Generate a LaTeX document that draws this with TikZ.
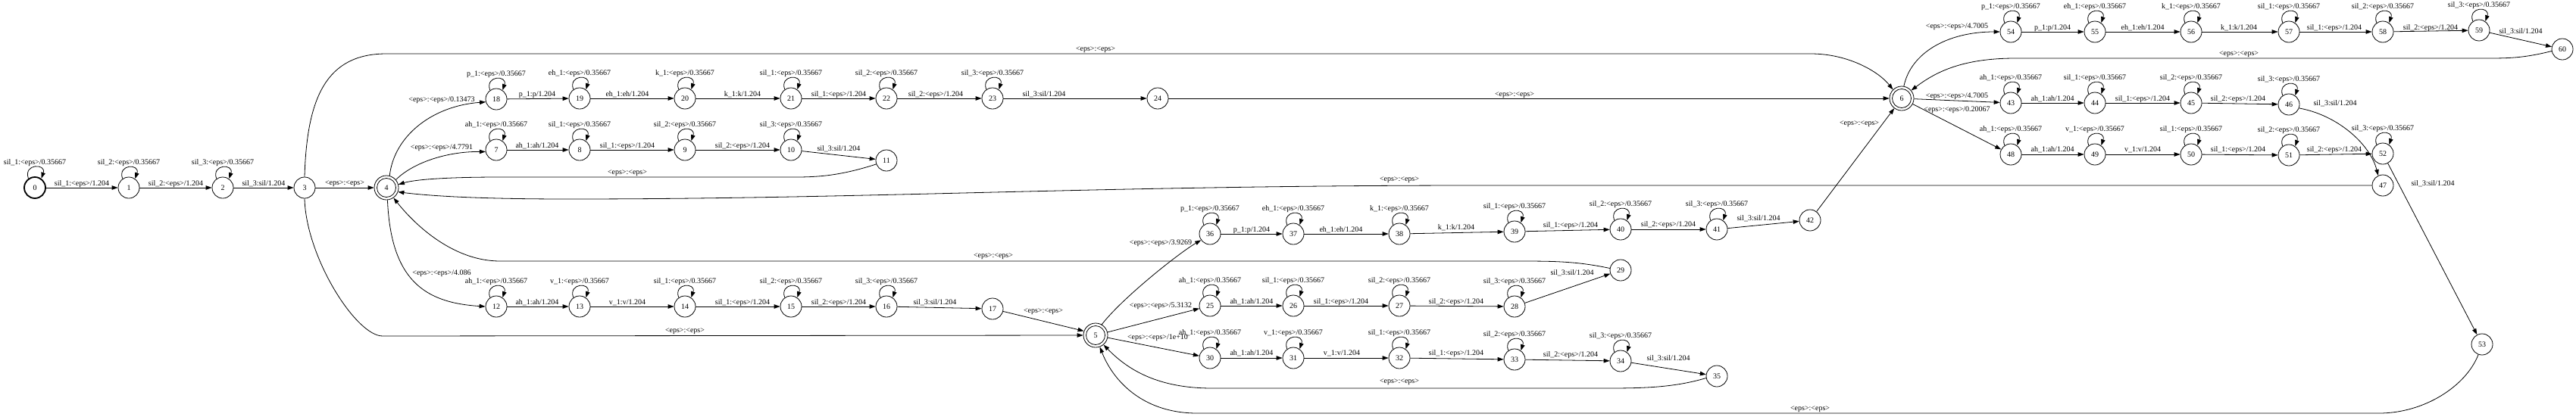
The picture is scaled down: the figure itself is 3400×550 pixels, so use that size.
\documentclass[tikz,border=0pt]{standalone}
\usepackage{fontspec}
\setmainfont{Liberation Serif}
\usetikzlibrary{arrows.meta}
\newcommand\lblfont{\fontsize{10pt}{12pt}\selectfont}
\newcommand\myloop[2]{\draw[arr] (#1.125) .. controls ([shift={(-7,-20)}]#1.125) and ([shift={(7,-20)}]#1.55) .. (#1.55);
  \node[lab] (loop#1) at ([yshift=33pt]#1.center) {#2};}
\newcommand\mychain[4]{\draw[arr] (#1) -- (#2);
  \node[lab] (lab#1#2) at (#3) {#4};}
\tikzset{
  st/.style={circle, draw, line width=0.8pt, minimum size=28pt, inner sep=0pt, font=\lblfont},
  fin/.style={st, minimum size=32pt, path picture={\draw[line width=0.8pt] (path picture bounding box.center) circle[radius=12.5pt];}},
  ini/.style={st, line width=1.8pt},
  lab/.style={font=\lblfont, inner sep=1pt, text=black},
  arr/.style={draw, line width=0.8pt, -{Triangle[length=8pt,width=5.5pt]}},
}
\begin{document}
\begin{tikzpicture}[x=1pt, y=-1pt]
\path[use as bounding box, fill=white] (0,0) rectangle (3400,550);
% states
\node[ini] (q0) at (46,248) {0};
\node[fin] (q4) at (510,248) {4};
\node[fin] (q5) at (1446,443) {5};
\node[fin] (q6) at (2510,130) {6};
\foreach \n/\x/\y in {1/170/248, 2/294/248, 3/402/248,
  7/655/198, 8/765/198, 9/904/198, 10/1044/198, 11/1170/212,
  12/655/405, 13/765/405, 14/904/405, 15/1044/405, 16/1170/405, 17/1310/408,
  18/655/131, 19/765/130, 20/904/130, 21/1044/130, 22/1170/130, 23/1310/130, 24/1528/130,
  25/1597/404, 26/1707/404, 27/1847/404, 28/1999/405, 29/2139/357,
  30/1597/473, 31/1707/473, 32/1847/473, 33/1999/475, 34/2139/477, 35/2266/497,
  36/1597/309, 37/1707/309, 38/1847/309, 39/1999/306, 40/2139/303, 41/2266/303, 42/2389/291,
  43/2654/136, 44/2765/136, 45/2892/136, 46/3021/138, 47/3145/245,
  48/2654/204, 49/2765/204, 50/2892/204, 51/3021/205, 52/3145/203, 53/3276/455,
  54/2654/42, 55/2765/42, 56/2892/42, 57/3021/42, 58/3145/42, 59/3272/40, 60/3382/65}
  {\node[st] (q\n) at (\x,\y) {\n};}
% self loops
\foreach \n/\p in {0/sil\_1, 1/sil\_2, 2/sil\_3,
  18/p\_1, 19/eh\_1, 20/k\_1, 21/sil\_1, 22/sil\_2, 23/sil\_3,
  7/ah\_1, 8/sil\_1, 9/sil\_2, 10/sil\_3,
  12/ah\_1, 13/v\_1, 14/sil\_1, 15/sil\_2, 16/sil\_3,
  36/p\_1, 37/eh\_1, 38/k\_1, 39/sil\_1, 40/sil\_2, 41/sil\_3,
  25/ah\_1, 26/sil\_1, 27/sil\_2, 28/sil\_3,
  30/ah\_1, 31/v\_1, 32/sil\_1, 33/sil\_2, 34/sil\_3,
  54/p\_1, 55/eh\_1, 56/k\_1, 57/sil\_1, 58/sil\_2, 59/sil\_3,
  43/ah\_1, 44/sil\_1, 45/sil\_2, 46/sil\_3,
  48/ah\_1, 49/v\_1, 50/sil\_1, 51/sil\_2, 52/sil\_3}
  {\myloop{q\n}{\p:<eps>/0.35667}}
% chains
\mychain{q0}{q1}{108,243}{sil\_1:<eps>/1.204}
\mychain{q1}{q2}{232,243}{sil\_2:<eps>/1.204}
\mychain{q2}{q3}{348,243}{sil\_3:sil/1.204}
\mychain{q3}{q4}{455,243}{<eps>:<eps>}
\mychain{q18}{q19}{709,125}{p\_1:p/1.204}
\mychain{q19}{q20}{828,125}{eh\_1:eh/1.204}
\mychain{q20}{q21}{980,125}{k\_1:k/1.204}
\mychain{q21}{q22}{1107,125}{sil\_1:<eps>/1.204}
\mychain{q22}{q23}{1235,125}{sil\_2:<eps>/1.204}
\mychain{q23}{q24}{1378,125}{sil\_3:sil/1.204}
\mychain{q7}{q8}{709,193}{ah\_1:ah/1.204}
\mychain{q8}{q9}{828,193}{sil\_1:<eps>/1.204}
\mychain{q9}{q10}{980,193}{sil\_2:<eps>/1.204}
\mychain{q10}{q11}{1107,197}{sil\_3:sil/1.204}
\mychain{q12}{q13}{709,400}{ah\_1:ah/1.204}
\mychain{q13}{q14}{828,400}{v\_1:v/1.204}
\mychain{q14}{q15}{980,400}{sil\_1:<eps>/1.204}
\mychain{q15}{q16}{1107,400}{sil\_2:<eps>/1.204}
\mychain{q16}{q17}{1234,400}{sil\_3:sil/1.204}
\mychain{q36}{q37}{1652,304}{p\_1:p/1.204}
\mychain{q37}{q38}{1770,304}{eh\_1:eh/1.204}
\mychain{q38}{q39}{1922,301}{k\_1:k/1.204}
\mychain{q39}{q40}{2073,298}{sil\_1:<eps>/1.204}
\mychain{q40}{q41}{2202,297}{sil\_2:<eps>/1.204}
\mychain{q41}{q42}{2321,289}{sil\_3:sil/1.204}
\mychain{q25}{q26}{1652,399}{ah\_1:ah/1.204}
\mychain{q26}{q27}{1770,399}{sil\_1:<eps>/1.204}
\mychain{q27}{q28}{1922,399}{sil\_2:<eps>/1.204}
\mychain{q30}{q31}{1652,467}{ah\_1:ah/1.204}
\mychain{q31}{q32}{1771,467}{v\_1:v/1.204}
\mychain{q32}{q33}{1922,467}{sil\_1:<eps>/1.204}
\mychain{q33}{q34}{2073,469}{sil\_2:<eps>/1.204}
\mychain{q54}{q55}{2709,37}{p\_1:p/1.204}
\mychain{q55}{q56}{2828,37}{eh\_1:eh/1.204}
\mychain{q56}{q57}{2955,37}{k\_1:k/1.204}
\mychain{q57}{q58}{3081,37}{sil\_1:<eps>/1.204}
\mychain{q58}{q59}{3208,37}{sil\_2:<eps>/1.204}
\mychain{q59}{q60}{3327,42}{sil\_3:sil/1.204}
\mychain{q43}{q44}{2709,131}{ah\_1:ah/1.204}
\mychain{q44}{q45}{2828,131}{sil\_1:<eps>/1.204}
\mychain{q45}{q46}{2954,131}{sil\_2:<eps>/1.204}
\mychain{q48}{q49}{2709,198}{ah\_1:ah/1.204}
\mychain{q49}{q50}{2828,198}{v\_1:v/1.204}
\mychain{q50}{q51}{2954,198}{sil\_1:<eps>/1.204}
\mychain{q51}{q52}{3081,198}{sil\_2:<eps>/1.204}
% straight edges with free labels
\mychain{q28}{q29}{2075,361}{sil\_3:sil/1.204}
\mychain{q34}{q35}{2202,474}{sil\_3:sil/1.204}
\mychain{q52}{q53}{3211,243}{sil\_3:sil/1.204}
\draw[arr] (q17) -- (q5.160);
\node[lab] (l17) at (1377,412) {<eps>:<eps>};
\mychain{q5}{q25}{1532,404}{<eps>:<eps>/5.3132}
\mychain{q5}{q30}{1528,446}{<eps>:<eps>/1e+10}
\mychain{q24}{q6}{1999,126}{<eps>:<eps>}
\mychain{q42}{q6}{2454,164}{<eps>:<eps>}
\mychain{q6}{q43}{2583,127}{<eps>:<eps>/4.7005}
\mychain{q6}{q48}{2583,145}{<eps>:<eps>/0.20067}
% curved edges
\draw[arr] (q3.north) .. controls (405,130) and (430,71) .. (510,71) -- (2390,71) .. controls (2440,71) and (2480,95) .. (q6.135);
\node[lab] (l36) at (1446,66) {<eps>:<eps>};
\draw[arr] (q3.south) .. controls (404,340) and (470,444) .. (505,444) -- (q5.west);
\node[lab] (l35) at (904,438) {<eps>:<eps>};
\draw[arr] (q4.75) .. controls (520,180) and (570,140) .. (q18.195);
\node[lab] (l418) at (583,132) {<eps>:<eps>/0.13473};
\draw[arr] (q4.40) .. controls (545,215) and (590,200) .. (q7.190);
\node[lab] (l47) at (583,195) {<eps>:<eps>/4.7791};
\draw[arr] (q4.275) .. controls (516,370) and (560,400) .. (q12.west);
\node[lab] (l412) at (583,361) {<eps>:<eps>/4.086};
\draw[arr] (q11.200) .. controls (1110,232) and (1080,234) .. (1050,234) -- (660,234) .. controls (580,234) and (545,238) .. (q4.15);
\node[lab] (l114) at (828,229) {<eps>:<eps>};
\draw[arr] (q47.west) -- (1950,245) .. controls (1450,245) and (1150,263) .. (750,263) .. controls (620,263) and (560,258) .. (q4.-20);
\node[lab] (l474) at (1847,238) {<eps>:<eps>};
\draw[arr] (q29.170) .. controls (2080,345) and (2050,345) .. (2000,345) -- (660,345) .. controls (600,345) and (550,300) .. (q4.-55);
\node[lab] (l294) at (1311,339) {<eps>:<eps>};
\draw[arr] (q5.60) .. controls (1480,395) and (1555,335) .. (q36.215);
\node[lab] (l536) at (1532,321) {<eps>:<eps>/3.9269};
\draw[arr] (q35.190) .. controls (2210,512) and (2170,513) .. (2120,513) -- (1600,513) .. controls (1530,513) and (1490,490) .. (q5.-50);
\node[lab] (l355) at (1847,505) {<eps>:<eps>};
\draw[arr] (q53.250) .. controls (3255,510) and (3200,546) .. (3140,546) -- (1580,546) .. controls (1510,546) and (1470,505) .. (q5.-70);
\node[lab] (l535) at (2389,541) {<eps>:<eps>};
\draw[arr] (q60.190) .. controls (3330,77) and (3310,77) .. (3280,77) -- (2660,77) .. controls (2590,77) and (2555,95) .. (q6.40);
\node[lab] (l606) at (2955,72) {<eps>:<eps>};
\draw[arr] (q6.80) .. controls (2522,70) and (2570,42) .. (q54.west);
\node[lab] (l654) at (2583,35) {<eps>:<eps>/4.7005};
\draw[arr] (q46.-20) .. controls (3085,152) and (3128,190) .. (q47.115);
\node[lab] (l4647) at (3082,137) {sil\_3:sil/1.204};
\end{tikzpicture}
\end{document}
